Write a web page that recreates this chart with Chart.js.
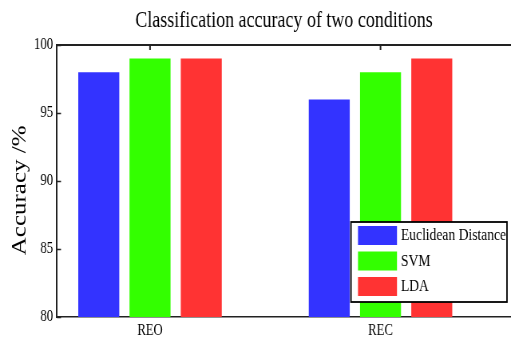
<!DOCTYPE html>
<html>
<head>
<meta charset="utf-8">
<script src="https://cdn.jsdelivr.net/npm/chart.js@4"></script>
<style>
  html, body { margin: 0; padding: 0; background: #fff; overflow: hidden; }
  /* the source figure is horizontally condensed; draw wide, then squeeze */
  #wrap { width: 640px; height: 338px; transform: scaleX(0.7984); transform-origin: 0 0; }
</style>
</head>
<body>
<div id="wrap"><canvas id="accChart"></canvas></div>
<script>
'use strict';

const categories  = ['REO', 'REC'];
const seriesNames = ['Euclidean Distance', 'SVM', 'LDA'];
const euclidean   = [98, 96];
const svm         = [99, 98];
const lda         = [99, 99];
const yTicks      = [80, 85, 90, 95, 100];
const colors      = ['#3333ff', '#33ff00', '#ff3333'];

const FONT = "'Liberation Serif', 'Times New Roman', serif";
const AXIS = '#222';

const toPoints = vals => vals.map((v, i) => ({ x: i + 1, y: v }));

// MATLAB-like box: top line, inward ticks, legend inside the axes
const frame = {
  id: 'frame',
  beforeDatasetsDraw(chart) {
    const { ctx, chartArea: a, scales: { x, y } } = chart;
    ctx.save();
    ctx.strokeStyle = AXIS;
    ctx.lineWidth = 1.5;
    ctx.beginPath();
    yTicks.forEach(t => {
      const py = Math.round(y.getPixelForValue(t)) + 0.5;
      ctx.moveTo(a.left, py); ctx.lineTo(a.left + 5, py);
    });
    ctx.stroke();
    ctx.lineWidth = 2;
    ctx.beginPath();
    categories.forEach((c, i) => {
      const px = x.getPixelForValue(i + 1);
      ctx.moveTo(px, a.top); ctx.lineTo(px, a.top + 5);
      ctx.moveTo(px, a.bottom); ctx.lineTo(px, a.bottom - 5);
    });
    ctx.stroke();
    ctx.restore();
  },
  afterDraw(chart) {
    const { ctx, chartArea: a } = chart;
    ctx.save();
    ctx.strokeStyle = AXIS;
    ctx.lineWidth = 2;
    ctx.beginPath();
    ctx.moveTo(a.left - 1, a.top);
    ctx.lineTo(a.right, a.top);
    ctx.stroke();

    const bx = 439.6, by = 222, bw = 195.4, bh = 80;
    ctx.fillStyle = '#fff';
    ctx.fillRect(bx, by, bw, bh);
    ctx.strokeStyle = '#000';
    ctx.lineWidth = 1.8;
    ctx.strokeRect(bx, by, bw, bh);
    ctx.font = '17px ' + FONT;
    ctx.textBaseline = 'middle';
    chart.data.datasets.forEach((ds, i) => {
      const ry = by + 4 + i * 25.5;
      ctx.fillStyle = ds.backgroundColor;
      ctx.fillRect(bx + 8.8, ry, 48.8, 19);
      ctx.fillStyle = '#000';
      ctx.fillText(ds.label, bx + 62.6, ry + 10);
    });
    ctx.restore();
  }
};

new Chart(document.getElementById('accChart'), {
  type: 'bar',
  data: {
    datasets: [euclidean, svm, lda].map((vals, i) => ({
      label: seriesNames[i],
      data: toPoints(vals),
      backgroundColor: colors[i],
      borderWidth: 0,
      categoryPercentage: 0.667,
      barPercentage: 0.8,
    }))
  },
  options: {
    responsive: true,
    maintainAspectRatio: false,
    animation: false,
    layout: { padding: 0 },
    plugins: {
      legend: { display: false },
      tooltip: { enabled: false },
      title: {
        display: true,
        fullSize: false,
        text: 'Classification accuracy of two conditions',
        color: '#000',
        font: { family: FONT, size: 22.5, weight: 'normal' },
        padding: { top: 8, bottom: 10 },
      }
    },
    scales: {
      x: {
        type: 'linear',
        offset: false,
        min: 0.5965,
        max: 2.566,
        grid: { display: false, drawTicks: false, offset: false },
        border: { display: true, color: AXIS, width: 1.5 },
        afterBuildTicks: scale => { scale.ticks = categories.map((c, i) => ({ value: i + 1 })); },
        afterFit: scale => { scale.height = 21; },
        ticks: {
          color: '#000',
          padding: 4,
          font: { family: FONT, size: 16 },
          callback: v => categories[v - 1] ?? '',
        }
      },
      y: {
        min: 80,
        max: 100,
        grid: { display: false, drawTicks: false },
        border: { display: true, color: AXIS, width: 2 },
        afterBuildTicks: scale => { scale.ticks = yTicks.map(v => ({ value: v })); },
        afterFit: scale => { scale.width = 71.4; },
        ticks: {
          color: '#000',
          padding: 5,
          font: { family: FONT, size: 16 },
        },
        title: {
          display: true,
          text: 'Accuracy /%   ',
          color: '#000',
          font: { family: FONT, size: 25 },
          padding: { top: 10, bottom: 0 },
        }
      }
    }
  },
  plugins: [frame]
});
</script>
</body>
</html>
